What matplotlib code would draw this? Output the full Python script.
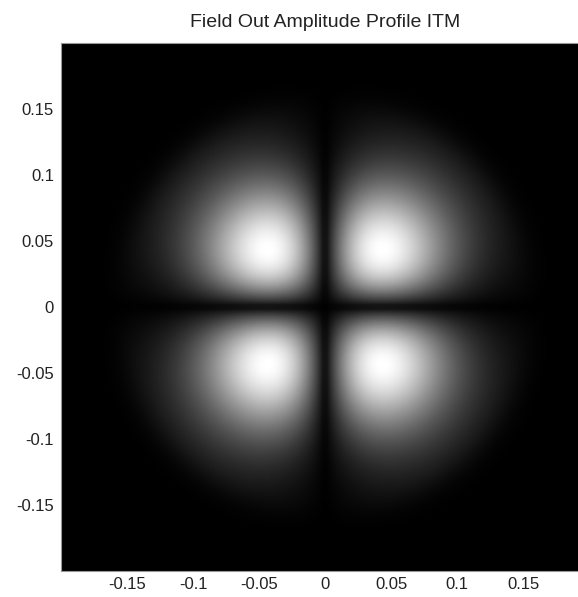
import numpy as np
import matplotlib
matplotlib.use('Agg')
import matplotlib.pyplot as plt

# field grid (physical coords, m) and mode parameters
n_grid = 128
half_width = 0.2
waist = 0.060          # main HG11 waist
tail_waist = 0.09      # weak broader component
tail_weight = 0.08
aperture = 0.16        # mirror radius
gamma = 0.9

ticks = [-0.15, -0.1, -0.05, 0, 0.05, 0.1, 0.15]
tick_labels = ['-0.15', '-0.1', '-0.05', '0', '0.05', '0.1', '0.15']

x = np.linspace(-half_width, half_width, n_grid)
X, Y = np.meshgrid(x, x)
R2 = X**2 + Y**2
field = np.abs(X * Y) * (np.exp(-R2 / waist**2) + tail_weight * np.exp(-R2 / tail_waist**2))
field *= 1 / (1 + np.exp((np.sqrt(R2) - aperture) / 0.006))
field = (field / field.max()) ** gamma

plt.rcParams['font.family'] = ['Liberation Sans', 'DejaVu Sans']
fig = plt.figure(figsize=(5.78, 5.97), dpi=100)
ax = fig.add_axes([61 / 578, 1 - 571 / 597, 528 / 578, 528 / 597])
ax.set_facecolor('black')

ax.imshow(field, cmap='gray', origin='lower', interpolation='bilinear',
          extent=[-half_width, half_width, -half_width, half_width], aspect='auto')

ax.set_xlim(-half_width, half_width)
ax.set_ylim(-half_width, half_width)
ax.set_xticks(ticks)
ax.set_xticklabels(tick_labels)
ax.set_yticks(ticks)
ax.set_yticklabels(tick_labels)
ax.tick_params(length=0, labelsize=12, colors='#222222')
ax.tick_params(axis='x', pad=4)
ax.tick_params(axis='y', pad=5)
for s in ax.spines.values():
    s.set_color('#999999')
    s.set_linewidth(0.8)

fig.text(325 / 578, 1 - 27 / 597, 'Field Out Amplitude Profile ITM',
         ha='center', va='baseline', fontsize=14, color='#222222')

plt.savefig('out.png', dpi=100)
